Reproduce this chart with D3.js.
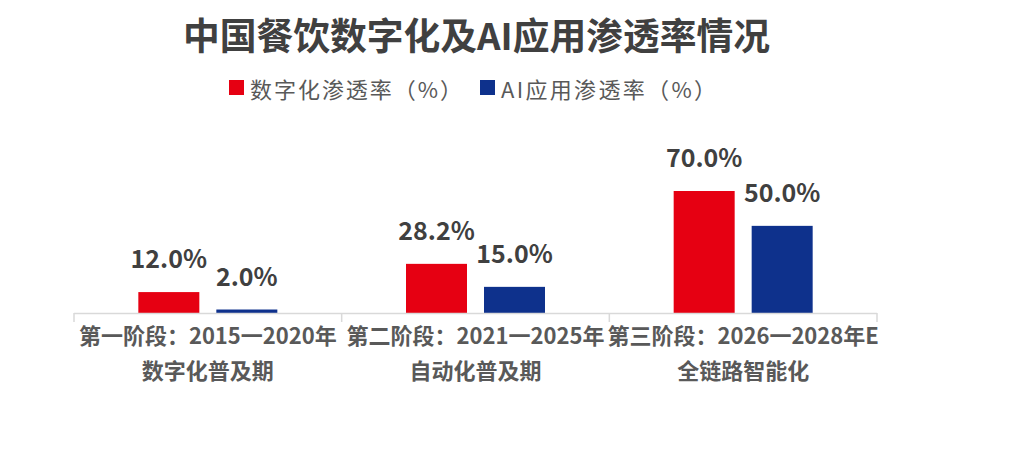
<!DOCTYPE html>
<html><head><meta charset="utf-8">
<script src="https://cdn.jsdelivr.net/npm/d3@7"></script>
<style>
html,body{margin:0;padding:0;background:#fff;}
svg{display:block;font-family:"Noto Sans CJK SC","Noto Sans",sans-serif;}
</style></head>
<body><svg id="c" width="1009" height="471"></svg>
<script>
const title = "中国餐饮数字化及AI应用渗透率情况";
const categoriesLine1 = ["第一阶段：2015一2020年", "第二阶段：2021一2025年", "第三阶段：2026一2028年E"];
const categoriesLine2 = ["数字化普及期", "自动化普及期", "全链路智能化"];
const seriesNames = ["数字化渗透率（%）", "AI应用渗透率（%）"];
const digitalValues = [12.0, 28.2, 70.0];
const aiValues = [2.0, 15.0, 50.0];
const colors = ["#e60012", "#0e318c"];

const svg = d3.select("#c");
const x0 = d3.scaleBand().domain(d3.range(categoriesLine1.length)).range([74, 877]).paddingInner(0).paddingOuter(0);
const y = d3.scaleLinear().domain([0, 70]).range([313, 191]);
const barW = 61, gap = 17;
const x1 = d3.scaleOrdinal().domain([0,1]).range([-(gap/2 + barW), gap/2]);

// title
svg.append("text").attr("x", 183).attr("y", 34)
  .attr("dominant-baseline","central").attr("font-size",37).attr("font-weight","bold")
  .attr("textLength",587).attr("lengthAdjust","spacingAndGlyphs")
  .attr("fill","#404040").text(title);

// legend
const legendX = [229, 480];
const legendLen = [212, 215];
seriesNames.forEach((n,i)=>{
  svg.append("rect").attr("x",legendX[i]).attr("y",80).attr("width",15).attr("height",15).attr("fill",colors[i]);
  svg.append("text").attr("x",legendX[i]+21).attr("y",87.5).attr("dominant-baseline","central")
    .attr("font-size",22).attr("textLength",legendLen[i]).attr("lengthAdjust","spacing")
    .attr("fill","#595959").text(n);
});

// bars
const series = [digitalValues, aiValues];
series.forEach((vals, s)=>{
  const g = svg.append("g");
  g.selectAll("rect").data(vals).join("rect")
    .attr("x",(d,i)=>x0(i)+x0.bandwidth()/2 + x1(s))
    .attr("y",d=>y(d)).attr("width",barW).attr("height",d=>y(0)-y(d))
    .attr("fill",colors[s]);
  g.selectAll("text").data(vals).join("text")
    .attr("x",(d,i)=>x0(i)+x0.bandwidth()/2 + x1(s) + barW/2)
    .attr("y",d=>y(d)-35).attr("text-anchor","middle").attr("dominant-baseline","central")
    .attr("font-size",25).attr("font-weight","bold").attr("fill","#404040")
    .text(d=>d.toFixed(1)+"%");
});

// axis
const ag = svg.append("g").attr("transform","translate(0,313)");
ag.append("line").attr("x1",74).attr("x2",877).attr("y1",0.5).attr("y2",0.5).attr("stroke","#d9d9d9").attr("stroke-width",1.5);
const bounds = [74, ...d3.range(categoriesLine1.length).map(i=>x0(i)+x0.bandwidth())];
ag.selectAll("line.t").data(bounds).join("line").attr("class","t")
  .attr("x1",d=>d).attr("x2",d=>d).attr("y1",0).attr("y2",9).attr("stroke","#d9d9d9").attr("stroke-width",1.5);

svg.selectAll("text.c1").data(categoriesLine1).join("text").attr("class","c1")
  .attr("x",(d,i)=>x0(i)+x0.bandwidth()/2).attr("y",334).attr("text-anchor","middle")
  .attr("dominant-baseline","central").attr("font-size",22).attr("font-weight","bold")
  .attr("fill","#595959").text(d=>d);
svg.selectAll("text.c2").data(categoriesLine2).join("text").attr("class","c2")
  .attr("x",(d,i)=>x0(i)+x0.bandwidth()/2).attr("y",369).attr("text-anchor","middle")
  .attr("dominant-baseline","central").attr("font-size",22).attr("font-weight","bold")
  .attr("fill","#595959").text(d=>d);
</script></body></html>
